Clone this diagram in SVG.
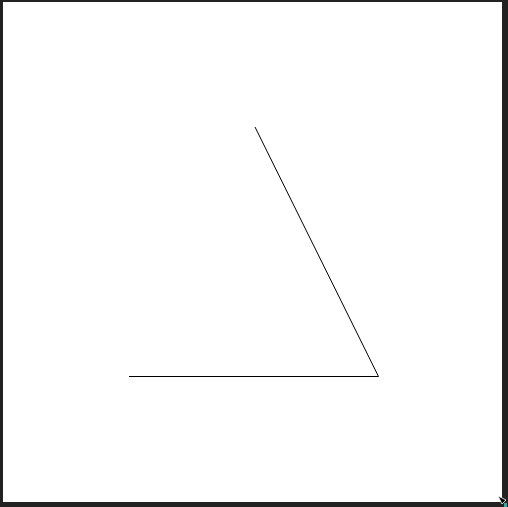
<svg xmlns="http://www.w3.org/2000/svg" width="508" height="507" viewBox="0 0 508 507">
<style>.ln{stroke:#000;stroke-width:1;fill:none}</style>
<rect x="0" y="0" width="508" height="507" fill="#222"/>
<rect x="3" y="2" width="499" height="500" fill="#fff"/>
<g id="connectors">
<line class="ln" x1="255" y1="127" x2="378.5" y2="376.5"/>
<line class="ln" x1="129" y1="376.5" x2="378.5" y2="376.5"/>
</g>
<g id="corner">
<polygon points="498,496 506,500 502,504" fill="#000" stroke="#fff" stroke-width="0.8"/>
<rect x="504" y="503" width="3" height="4" fill="#3aa7a7"/>
</g>
</svg>
